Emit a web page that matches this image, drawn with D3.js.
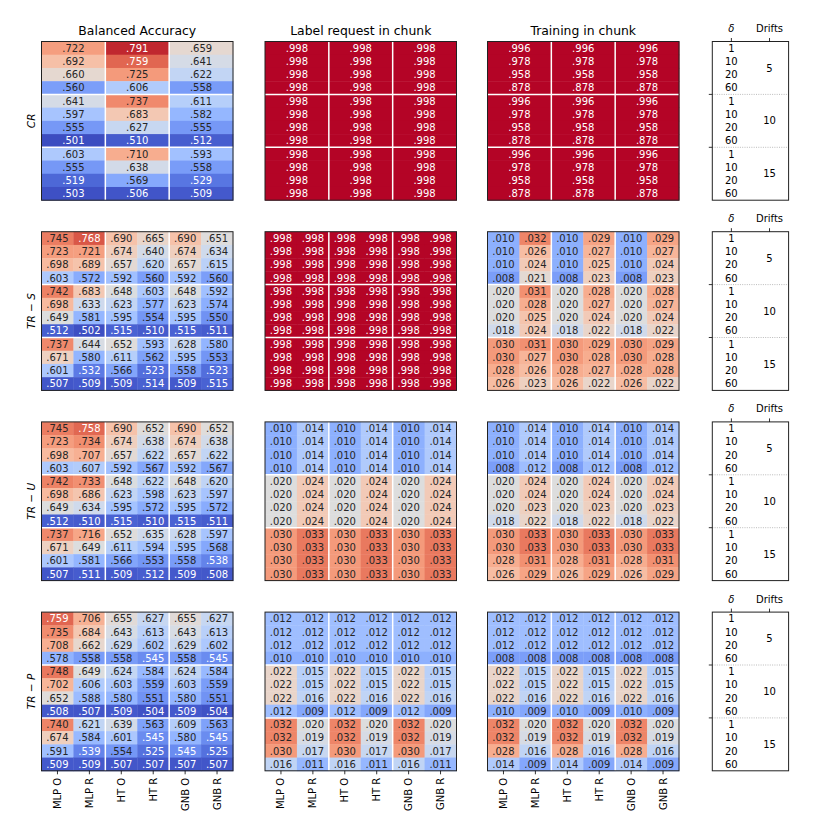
<!DOCTYPE html>
<html><head><meta charset="utf-8">
<script src="https://cdn.jsdelivr.net/npm/d3@7"></script>
<style>body{margin:0;background:#fff} svg{display:block} text{font-family:"DejaVu Sans",sans-serif}</style>
</head><body>
<svg id="chart" width="830" height="830"></svg>
<script>
// ---------- data ----------
const colsCR = ["MLP", "HT", "GNB"];
const colsTR = ["MLP O", "MLP R", "HT O", "HT R", "GNB O", "GNB R"];
const deltas = [1, 10, 20, 60];
const drifts = [5, 10, 15];
const scenarios = ["CR", "TR \u2212 S", "TR \u2212 U", "TR \u2212 P"];
const panelTitles = ["Balanced Accuracy", "Label request in chunk", "Training in chunk"];

const baCR = [
  [.722,.791,.659],[.692,.759,.641],[.660,.725,.622],[.560,.606,.558],
  [.641,.737,.611],[.597,.683,.582],[.555,.627,.555],[.501,.510,.512],
  [.603,.710,.593],[.555,.638,.558],[.519,.569,.529],[.503,.506,.509]];
const labelCR = [
  [.998,.998,.998],[.998,.998,.998],[.998,.998,.998],[.998,.998,.998],
  [.998,.998,.998],[.998,.998,.998],[.998,.998,.998],[.998,.998,.998],
  [.998,.998,.998],[.998,.998,.998],[.998,.998,.998],[.998,.998,.998]];
const trainCR = [
  [.996,.996,.996],[.978,.978,.978],[.958,.958,.958],[.878,.878,.878],
  [.996,.996,.996],[.978,.978,.978],[.958,.958,.958],[.878,.878,.878],
  [.996,.996,.996],[.978,.978,.978],[.958,.958,.958],[.878,.878,.878]];

const baTRS = [
  [.745,.768,.690,.665,.690,.651],[.723,.721,.674,.640,.674,.634],
  [.698,.689,.657,.620,.657,.615],[.603,.572,.592,.560,.592,.560],
  [.742,.683,.648,.603,.648,.592],[.698,.633,.623,.577,.623,.574],
  [.649,.581,.595,.554,.595,.550],[.512,.502,.515,.510,.515,.511],
  [.737,.644,.652,.593,.628,.580],[.671,.580,.611,.562,.595,.553],
  [.601,.532,.566,.523,.558,.523],[.507,.509,.509,.514,.509,.515]];
const labelTRS = [
  [.998,.998,.998,.998,.998,.998],[.998,.998,.998,.998,.998,.998],
  [.998,.998,.998,.998,.998,.998],[.998,.998,.998,.998,.998,.998],
  [.998,.998,.998,.998,.998,.998],[.998,.998,.998,.998,.998,.998],
  [.998,.998,.998,.998,.998,.998],[.998,.998,.998,.998,.998,.998],
  [.998,.998,.998,.998,.998,.998],[.998,.998,.998,.998,.998,.998],
  [.998,.998,.998,.998,.998,.998],[.998,.998,.998,.998,.998,.998]];
const trainTRS = [
  [.010,.032,.010,.029,.010,.029],[.010,.026,.010,.027,.010,.027],
  [.010,.024,.010,.025,.010,.024],[.008,.021,.008,.023,.008,.023],
  [.020,.031,.020,.028,.020,.028],[.020,.028,.020,.027,.020,.027],
  [.020,.025,.020,.024,.020,.024],[.018,.024,.018,.022,.018,.022],
  [.030,.031,.030,.029,.030,.029],[.030,.027,.030,.028,.030,.028],
  [.028,.026,.028,.027,.028,.028],[.026,.023,.026,.022,.026,.022]];

const baTRU = [
  [.745,.758,.690,.652,.690,.652],[.723,.734,.674,.638,.674,.638],
  [.698,.707,.657,.622,.657,.622],[.603,.607,.592,.567,.592,.567],
  [.742,.733,.648,.622,.648,.620],[.698,.686,.623,.598,.623,.597],
  [.649,.634,.595,.572,.595,.572],[.512,.510,.515,.510,.515,.511],
  [.737,.716,.652,.635,.628,.597],[.671,.649,.611,.594,.595,.568],
  [.601,.581,.566,.553,.558,.538],[.507,.511,.509,.512,.509,.508]];
const labelTRU = [
  [.010,.014,.010,.014,.010,.014],[.010,.014,.010,.014,.010,.014],
  [.010,.014,.010,.014,.010,.014],[.010,.014,.010,.014,.010,.014],
  [.020,.024,.020,.024,.020,.024],[.020,.024,.020,.024,.020,.024],
  [.020,.024,.020,.024,.020,.024],[.020,.024,.020,.024,.020,.024],
  [.030,.033,.030,.033,.030,.033],[.030,.033,.030,.033,.030,.033],
  [.030,.033,.030,.033,.030,.033],[.030,.033,.030,.033,.030,.033]];
const trainTRU = [
  [.010,.014,.010,.014,.010,.014],[.010,.014,.010,.014,.010,.014],
  [.010,.014,.010,.014,.010,.014],[.008,.012,.008,.012,.008,.012],
  [.020,.024,.020,.024,.020,.024],[.020,.024,.020,.024,.020,.024],
  [.020,.023,.020,.023,.020,.023],[.018,.022,.018,.022,.018,.022],
  [.030,.033,.030,.033,.030,.033],[.030,.033,.030,.033,.030,.033],
  [.028,.031,.028,.031,.028,.031],[.026,.029,.026,.029,.026,.029]];

const baTRP = [
  [.759,.706,.655,.627,.655,.627],[.735,.684,.643,.613,.643,.613],
  [.708,.662,.629,.602,.629,.602],[.578,.558,.558,.545,.558,.545],
  [.748,.649,.624,.584,.624,.584],[.702,.606,.603,.559,.603,.559],
  [.652,.588,.580,.551,.580,.551],[.508,.507,.509,.504,.509,.504],
  [.740,.621,.639,.563,.609,.563],[.674,.584,.601,.545,.580,.545],
  [.591,.539,.554,.525,.545,.525],[.509,.509,.507,.507,.507,.507]];
const labelTRP = [
  [.012,.012,.012,.012,.012,.012],[.012,.012,.012,.012,.012,.012],
  [.012,.012,.012,.012,.012,.012],[.010,.010,.010,.010,.010,.010],
  [.022,.015,.022,.015,.022,.015],[.022,.015,.022,.015,.022,.015],
  [.022,.016,.022,.016,.022,.016],[.012,.009,.012,.009,.012,.009],
  [.032,.020,.032,.020,.032,.020],[.032,.019,.032,.019,.032,.019],
  [.030,.017,.030,.017,.030,.017],[.016,.011,.016,.011,.016,.011]];
const trainTRP = [
  [.012,.012,.012,.012,.012,.012],[.012,.012,.012,.012,.012,.012],
  [.012,.012,.012,.012,.012,.012],[.008,.008,.008,.008,.008,.008],
  [.022,.015,.022,.015,.022,.015],[.022,.015,.022,.015,.022,.015],
  [.022,.016,.022,.016,.022,.016],[.010,.009,.010,.009,.010,.009],
  [.032,.020,.032,.020,.032,.020],[.032,.019,.032,.019,.032,.019],
  [.028,.016,.028,.016,.028,.016],[.014,.009,.014,.009,.014,.009]];

const matrices = [
  [baCR, labelCR, trainCR],
  [baTRS, labelTRS, trainTRS],
  [baTRU, labelTRU, trainTRU],
  [baTRP, labelTRP, trainTRP]];

// ---------- colormap (coolwarm) ----------
const coolwarmRGB = [
  [59,76,192],[68,90,204],[77,104,215],[87,117,225],[98,130,234],[108,142,241],
  [119,154,247],[130,165,251],[141,176,254],[152,185,255],[163,194,255],[174,201,253],
  [184,208,249],[194,213,244],[204,217,238],[213,219,230],[221,221,221],[229,216,209],
  [236,211,197],[241,204,185],[245,196,173],[247,187,160],[247,177,148],[247,166,135],
  [244,154,123],[241,141,111],[236,127,99],[229,112,88],[222,96,77],[213,80,66],
  [203,62,56],[192,40,47],[180,4,38]];
const coolwarm = d3.scaleLinear()
  .domain(coolwarmRGB.map((d, i) => i / (coolwarmRGB.length - 1)))
  .range(coolwarmRGB.map(c => d3.rgb(c[0], c[1], c[2]).toString()))
  .interpolate(d3.interpolateRgb).clamp(true);
const normBA = d3.scaleLinear().domain([0.5, 0.8]).range([0, 1]).clamp(true);
const normRate = d3.scaleLinear().domain([0, 0.04]).range([0, 1]).clamp(true);

// ---------- layout ----------
const svg = d3.select("#chart");
const colX = [41.5, 265, 487.5];
const panelW = 191.5;
const rowY = [41.5, 231.7, 421.9, 612.1];
const panelH = 158.7;
const sideX = 712.3, sideW = 76.3;
const fmt = v => d3.format(".3f")(v).replace(/^0/, "");
const darkText = "#262626";

scenarios.forEach((scen, r) => {
  const y0 = rowY[r];
  const cols = r === 0 ? colsCR : colsTR;
  const yScale = d3.scaleBand().domain(d3.range(12)).range([y0, y0 + panelH]);

  // row label
  svg.append("text")
    .attr("transform", `translate(31,${y0 + panelH / 2}) rotate(-90)`)
    .attr("text-anchor", "middle").attr("dy", "0.35em")
    .attr("font-size", 10.5).attr("font-style", "italic").attr("fill", "#000")
    .text(scen);

  matrices[r].forEach((mat, p) => {
    const x0 = colX[p];
    const norm = p === 0 ? normBA : normRate;
    const xScale = d3.scaleBand().domain(d3.range(cols.length)).range([x0, x0 + panelW]);
    const g = svg.append("g");
    const cells = [];
    mat.forEach((row, i) => row.forEach((v, j) => cells.push({ i, j, v })));

    g.selectAll("rect.cell").data(cells).join("rect")
      .attr("class", "cell")
      .attr("x", d => xScale(d.j)).attr("y", d => yScale(d.i))
      .attr("width", xScale.bandwidth() + 0.4).attr("height", yScale.bandwidth() + 0.4)
      .attr("fill", d => coolwarm(norm(d.v)));

    g.selectAll("text.val").data(cells).join("text")
      .attr("class", "val")
      .attr("x", d => xScale(d.j) + xScale.bandwidth() / 2)
      .attr("y", d => yScale(d.i) + yScale.bandwidth() / 2)
      .attr("dy", "0.36em").attr("text-anchor", "middle").attr("font-size", 10)
      .attr("fill", d => { const t = norm(d.v); return (t < 0.16 || t > 0.845) ? "#fff" : darkText; })
      .text(d => fmt(d.v));

    // separators
    const vBounds = r === 0 ? [1, 2] : [2, 4];
    vBounds.forEach(b => g.append("line")
      .attr("x1", xScale(b)).attr("x2", xScale(b))
      .attr("y1", y0).attr("y2", y0 + panelH)
      .attr("stroke", "#fff").attr("stroke-width", 1.5));
    [4, 8].forEach(b => g.append("line")
      .attr("x1", x0).attr("x2", x0 + panelW)
      .attr("y1", yScale(b)).attr("y2", yScale(b))
      .attr("stroke", "#fff").attr("stroke-width", 1.5));

    g.append("rect").attr("x", x0).attr("y", y0).attr("width", panelW).attr("height", panelH)
      .attr("fill", "none").attr("stroke", "#222").attr("stroke-width", 1);

    if (r === 0) {
      svg.append("text").attr("x", x0 + panelW / 2).attr("y", y0 - 7)
        .attr("text-anchor", "middle").attr("font-size", 12.4).attr("fill", "#000")
        .text(panelTitles[p]);
    }
    if (r === scenarios.length - 1) {
      cols.forEach((c, j) => {
        const cx = xScale(j) + xScale.bandwidth() / 2;
        svg.append("line").attr("x1", cx).attr("x2", cx)
          .attr("y1", y0 + panelH).attr("y2", y0 + panelH + 3.5)
          .attr("stroke", "#000").attr("stroke-width", 0.8);
        svg.append("text")
          .attr("transform", `translate(${cx},${y0 + panelH + 7}) rotate(-90)`)
          .attr("text-anchor", "end").attr("dy", "0.35em")
          .attr("font-size", 10).attr("fill", "#000").text(c);
      });
    }
  });

  // side panel
  const sg = svg.append("g");
  const sx = d3.scalePoint().domain(["\u03b4", "Drifts"]).range([sideX, sideX + sideW]).padding(0.5);
  const sy = d3.scaleBand().domain(d3.range(12)).range([y0, y0 + panelH]);
  [4, 8].forEach(b => {
    sg.append("line").attr("x1", sideX).attr("x2", sideX + sideW)
      .attr("y1", sy(b)).attr("y2", sy(b))
      .attr("stroke", "#aaa").attr("stroke-width", 0.8).attr("stroke-dasharray", "1,1.3");
    sg.append("line").attr("x1", sideX - 3.5).attr("x2", sideX)
      .attr("y1", sy(b)).attr("y2", sy(b))
      .attr("stroke", "#000").attr("stroke-width", 0.8);
  });
  drifts.forEach((dr, gi) => {
    deltas.forEach((dl, k) => {
      const i = gi * 4 + k;
      sg.append("text").attr("x", sx("\u03b4")).attr("y", sy(i) + sy.bandwidth() / 2)
        .attr("dy", "0.36em").attr("text-anchor", "middle").attr("font-size", 10)
        .attr("fill", "#000").text(dl);
    });
    sg.append("text").attr("x", sx("Drifts")).attr("y", sy(gi * 4 + 2))
      .attr("dy", "0.36em").attr("text-anchor", "middle").attr("font-size", 10)
      .attr("fill", "#000").text(dr);
  });
  sg.append("rect").attr("x", sideX).attr("y", y0).attr("width", sideW).attr("height", panelH)
    .attr("fill", "none").attr("stroke", "#222").attr("stroke-width", 1);
  sx.domain().forEach(k => {
    sg.append("line").attr("x1", sx(k)).attr("x2", sx(k))
      .attr("y1", y0 - 3.5).attr("y2", y0)
      .attr("stroke", "#000").attr("stroke-width", 0.8);
    sg.append("text").attr("x", sx(k)).attr("y", y0 - 9.5)
      .attr("text-anchor", "middle").attr("font-size", 10)
      .attr("font-style", k === "\u03b4" ? "italic" : "normal")
      .attr("fill", "#000").text(k);
  });
});
</script>
</body></html>
